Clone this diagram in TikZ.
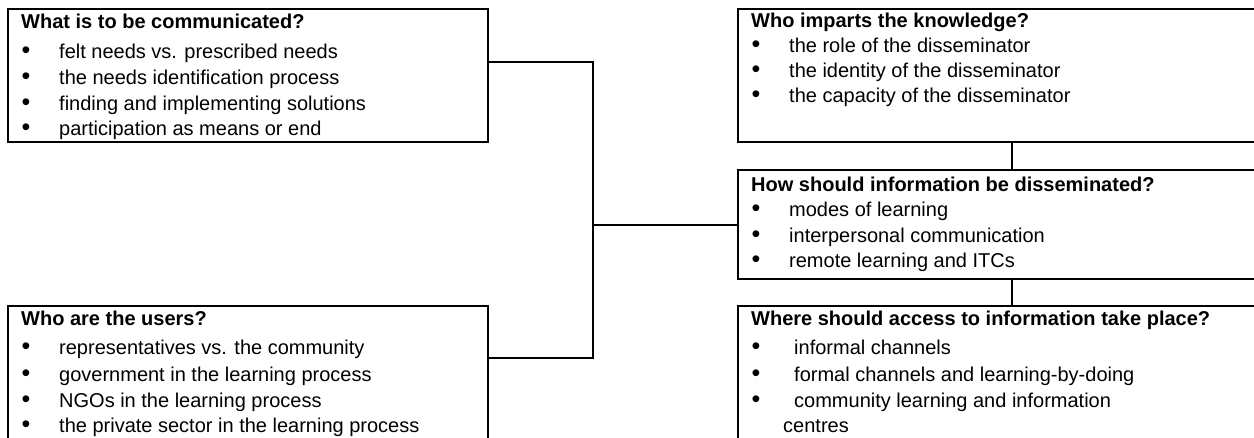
\documentclass[tikz,border=0pt]{standalone}
\usepackage{fontspec}
\setmainfont{Liberation Sans}
\begin{document}
\begin{tikzpicture}[x=1pt,y=-1pt,
  box/.style={draw, line width=2pt, rectangle, inner sep=0pt, anchor=north west},
  conn/.style={line width=2pt},
  ttl/.style={anchor=base west, inner sep=0pt, font=\bfseries\fontsize{20}{24}\selectfont},
  itm/.style={anchor=base west, inner sep=0pt, font=\fontsize{20}{24}\selectfont},
  bul/.style={anchor=base, inner sep=0pt, font=\fontsize{25}{24}\selectfont}]
\useasboundingbox (0,0) rectangle (1254,437);
\clip (0,0) rectangle (1254,437);
% boxes
\node[box, minimum width=480pt, minimum height=133pt] (A) at (7,8) {};
\node[box, minimum width=480pt, minimum height=150pt] (B) at (7,305) {};
\node[box, minimum width=540pt, minimum height=133pt] (C) at (737,8) {};
\node[box, minimum width=540pt, minimum height=109pt] (D) at (737,169) {};
\node[box, minimum width=540pt, minimum height=150pt] (E) at (737,305) {};
% connectors
\coordinate (j1) at (593,62);
\coordinate (j2) at (593,358);
\coordinate (jc) at (1012,0);
\draw[conn] ([yshift=-54pt]A.north east) -- (j1) -- (j2) -- ([yshift=-53pt]B.north east);
\draw[conn] (j1 |- D.west) -- (D.west);
\draw[conn] (jc |- C.south) -- (jc |- D.north);
\draw[conn] (jc |- D.south) -- (jc |- E.north);
% box A
\node[ttl] (At) at (21,28) {What is to be communicated?};
\node[bul] (Ab1) at (26,58) {•};  \node[itm] (A1) at (59,58) {felt needs vs. prescribed needs};
\node[bul] (Ab2) at (26,84) {•};  \node[itm] (A2) at (59,84) {the needs identification process};
\node[bul] (Ab3) at (26,110) {•}; \node[itm] (A3) at (59,110) {finding and implementing solutions};
\node[bul] (Ab4) at (26,135) {•}; \node[itm] (A4) at (59,135) {participation as means or end};
% box B
\node[ttl] (Bt) at (21,325) {Who are the users?};
\node[bul] (Bb1) at (26,354) {•}; \node[itm] (B1) at (59,354) {representatives vs. the community};
\node[bul] (Bb2) at (26,381) {•}; \node[itm] (B2) at (59,381) {government in the learning process};
\node[bul] (Bb3) at (26,407) {•}; \node[itm] (B3) at (59,407) {NGOs in the learning process};
\node[bul] (Bb4) at (26,432) {•}; \node[itm] (B4) at (59,432) {the private sector in the learning process};
% box C
\node[ttl] (Ct) at (751,27) {Who imparts the knowledge?};
\node[bul] (Cb1) at (756,52) {•};  \node[itm] (C1) at (789,52) {the role of the disseminator};
\node[bul] (Cb2) at (756,77) {•};  \node[itm] (C2) at (789,77) {the identity of the disseminator};
\node[bul] (Cb3) at (756,102) {•}; \node[itm] (C3) at (789,102) {the capacity of the disseminator};
% box D
\node[ttl] (Dt) at (751,191) {How should information be disseminated?};
\node[bul] (Db1) at (756,216) {•}; \node[itm] (D1) at (789,216) {modes of learning};
\node[bul] (Db2) at (756,242) {•}; \node[itm] (D2) at (789,242) {interpersonal communication};
\node[bul] (Db3) at (756,267) {•}; \node[itm] (D3) at (789,267) {remote learning and ITCs};
% box E
\node[ttl] (Et) at (751,325) {Where should access to information take place?};
\node[bul] (Eb1) at (756,354) {•}; \node[itm] (E1) at (794,354) {informal channels};
\node[bul] (Eb2) at (756,381) {•}; \node[itm] (E2) at (794,381) {formal channels and learning-by-doing};
\node[bul] (Eb3) at (756,407) {•}; \node[itm] (E3) at (794,407) {community learning and information};
\node[itm] (E4) at (783,432) {centres};
\end{tikzpicture}
\end{document}
